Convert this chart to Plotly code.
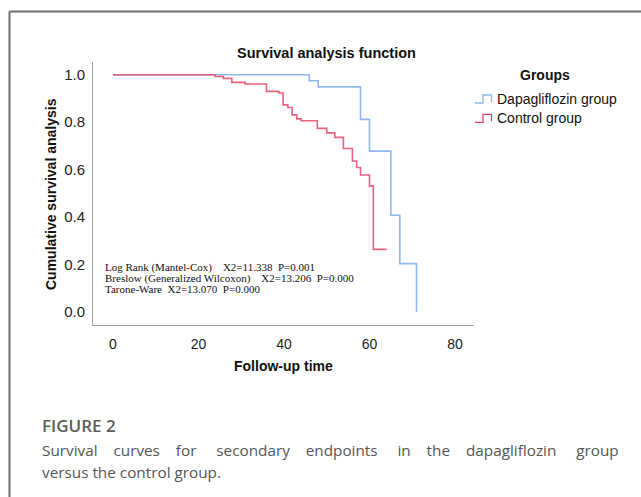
import plotly.graph_objects as go

# ---- data ----
dapa_time = [0, 45.9, 48.0, 57.9, 60.0, 65.0, 67.1, 71.0]
dapa_surv = [1.0, 0.975, 0.949, 0.812, 0.678, 0.407, 0.203, 0.0]

ctrl_time = [0, 23.9, 25.8, 27.8, 30.9, 35.9, 38.8, 39.8, 40.9, 41.9, 43.0, 44.0,
             47.8, 50.0, 51.9, 53.9, 56.0, 57.0, 57.9, 60.0, 60.9, 64.0]
ctrl_surv = [1.0, 0.993, 0.985, 0.968, 0.961, 0.930, 0.923, 0.873, 0.862, 0.831, 0.814, 0.806,
             0.774, 0.755, 0.736, 0.689, 0.636, 0.609, 0.577, 0.530, 0.263, 0.263]

group_names = ["Dapagliflozin group", "Control group"]
stats_lines = [
    "Log Rank (Mantel-Cox)\u00a0\u00a0\u00a0\u00a0X2=11.338\u00a0\u00a0P=0.001",
    "Breslow (Generalized Wilcoxon)\u00a0\u00a0\u00a0\u00a0X2=13.206\u00a0\u00a0P=0.000",
    "Tarone-Ware\u00a0\u00a0X2=13.070\u00a0\u00a0P=0.000",
]
x_ticks = [0, 20, 40, 60, 80]
y_ticks = [0.0, 0.2, 0.4, 0.6, 0.8, 1.0]
caption_words_1 = ["Survival", "curves", "for", "secondary", "endpoints", "in", "the",
                   "dapagliflozin", "group"]
caption_line_2 = "versus the control group."

BLUE = "#8FB8EE"
RED = "#E8456A"
COLORS = [BLUE, RED]

W, H = 641, 497
L, R, T, B = 93, 474, 62, 325  # plot area in pixels


def fx(px):
    return (px - L) / (R - L)


def fy(py):
    return (B - py) / (B - T)


fig = go.Figure()
fig.add_trace(go.Scatter(x=dapa_time, y=dapa_surv, mode="lines", line_shape="hv",
                         line=dict(color=BLUE, width=1.6), name=group_names[0],
                         showlegend=False, hoverinfo="skip"))
fig.add_trace(go.Scatter(x=ctrl_time, y=ctrl_surv, mode="lines", line_shape="hv",
                         line=dict(color=RED, width=1.6), opacity=0.85, name=group_names[1],
                         showlegend=False, hoverinfo="skip"))

AX_FONT = dict(family="Liberation Sans, Arial", size=14, color="#222222")
YAX_FONT = dict(family="Liberation Sans, Arial", size=15, color="#222222")

fig.update_layout(
    width=W, height=H,
    margin=dict(l=L, r=W - R, t=T, b=H - B, pad=0),
    paper_bgcolor="white", plot_bgcolor="white",
    xaxis=dict(range=[-4.68, 84.45], tickvals=x_ticks, showgrid=False, zeroline=False,
               showline=True, linecolor="#a0a0a0", linewidth=1, ticks="",
               tickfont=AX_FONT, ticklabelstandoff=6),
    yaxis=dict(range=[-0.056, 1.054], tickvals=y_ticks, tickformat=".1f", showgrid=False,
               zeroline=False, showline=True, linecolor="#a0a0a0", linewidth=1, ticks="",
               tickfont=YAX_FONT, ticklabelstandoff=4),
    showlegend=False,
)

ann = []
bold = dict(family="Liberation Sans, Arial", size=14, color="#111111")
ann.append(dict(text="<b>Survival analysis function</b>", x=fx(326.7), y=fy(52.7),
                xanchor="center", yanchor="middle",
                font=dict(family="Liberation Sans, Arial", size=14.5, color="#111111")))
ann.append(dict(text="<b>Cumulative survival analysis</b>", x=fx(51), y=fy(194),
                xanchor="center", yanchor="middle", textangle=-90, font=bold))
ann.append(dict(text="<b>Follow-up time</b>", x=fx(283.5), y=fy(366),
                xanchor="center", yanchor="middle", font=bold))
ann.append(dict(text="<b>Groups</b>", x=fx(545), y=fy(75),
                xanchor="center", yanchor="middle", font=bold))

shapes = []
item_y = [99, 118.3]
for name, col, iy in zip(group_names, COLORS, item_y):
    ann.append(dict(text=name, x=fx(495), y=fy(iy), xanchor="left", yanchor="middle",
                    font=dict(family="Liberation Sans, Arial", size=14, color="#111111")))
    path = "M {} {} L {} {} L {} {} L {} {} L {} {}".format(
        fx(475), fy(iy + 4), fx(483), fy(iy + 4), fx(483), fy(iy - 4),
        fx(491.5), fy(iy - 4), fx(491.5), fy(iy + 3))
    shapes.append(dict(type="path", xref="paper", yref="paper", path=path,
                       line=dict(color=col, width=1.3)))

for i, line in enumerate(stats_lines):
    ann.append(dict(text=line, x=fx(103.3), y=fy(267.3 + 11 * i), xanchor="left",
                    yanchor="middle",
                    font=dict(family="Liberation Serif, Times New Roman", size=11,
                              color="#111111")))

# caption (first line justified by widening the word gaps)
cap_font = dict(family="Open Sans", size=15.3, color="#555555")
gaps = [4, 4, 5, 4, 5, 4, 4, 5]
line1 = caption_words_1[0]
for g, w in zip(gaps, caption_words_1[1:]):
    line1 += "\u00a0" * g + w
ann.append(dict(text="FIGURE 2", x=fx(40), y=fy(425), xanchor="left", yanchor="middle",
                font=dict(family="Open Sans", size=17, color="#5c5c5c", weight=600)))
ann.append(dict(text=line1, x=fx(40), y=fy(450), xanchor="left", yanchor="middle",
                font=cap_font))
ann.append(dict(text=caption_line_2, x=fx(40), y=fy(472), xanchor="left",
                yanchor="middle", font=cap_font))

for a in ann:
    a.update(xref="paper", yref="paper", showarrow=False)

# outer frame (left and top)
shapes.append(dict(type="line", xref="paper", yref="paper", x0=fx(9.5), x1=fx(9.5),
                   y0=fy(11.5), y1=fy(H + 5), line=dict(color="#6e6e6e", width=2)))
shapes.append(dict(type="line", xref="paper", yref="paper", x0=fx(9.5), x1=fx(W + 5),
                   y0=fy(11.5), y1=fy(11.5), line=dict(color="#6e6e6e", width=2)))

fig.update_layout(annotations=ann, shapes=shapes, hovermode=False)
fig.write_html("out.html", config={"displayModeBar": False, "staticPlot": True},
               post_script="document.body.style.margin='0';document.body.style.overflow='hidden';")
